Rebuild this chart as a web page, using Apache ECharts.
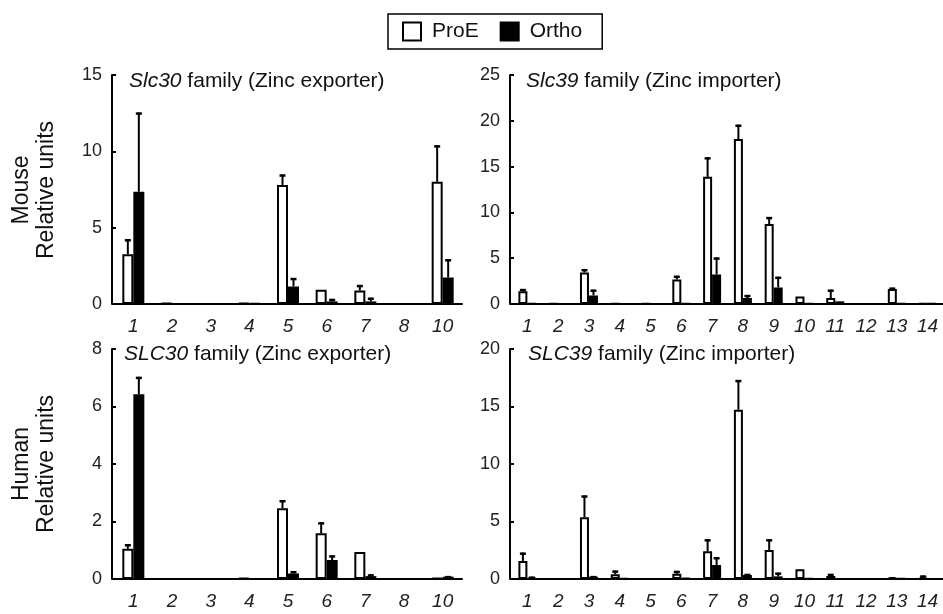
<!DOCTYPE html>
<html>
<head>
<meta charset="utf-8">
<script src="https://cdn.jsdelivr.net/npm/echarts@6/dist/echarts.min.js"></script>
<style>html,body{margin:0;padding:0;background:#fff}#c{width:943px;height:614px}</style>
</head>
<body>
<div id="c"></div>
<script>
const slc30Cats = ['1','2','3','4','5','6','7','8','10'];
const slc39Cats = ['1','2','3','4','5','6','7','8','9','10','11','12','13','14'];

const mouse30ProE     = [3.26, 0.05, 0, 0.05, 7.8, 0.93, 0.89, 0, 8.0];
const mouse30ProEErr  = [0.98, 0, 0, 0, 0.68, 0, 0.35, 0, 2.39];
const mouse30Ortho    = [7.35, 0, 0, 0.03, 1.15, 0.17, 0.17, 0, 1.74];
const mouse30OrthoErr = [5.19, 0, 0, 0, 0.55, 0.16, 0.24, 0, 1.19];

const mouse39ProE     = [1.38, 0.05, 3.44, 0.05, 0.05, 2.68, 13.88, 18.0, 8.73, 0.83, 0.65, 0, 1.63, 0.05];
const mouse39ProEErr  = [0.25, 0, 0.36, 0, 0, 0.4, 2.13, 1.57, 0.76, 0, 0.91, 0, 0.15, 0];
const mouse39Ortho    = [0.08, 0, 0.94, 0, 0, 0.07, 3.22, 0.65, 1.81, 0.05, 0.29, 0, 0.05, 0.05];
const mouse39OrthoErr = [0, 0, 0.62, 0, 0, 0, 1.85, 0.33, 1.16, 0, 0, 0, 0, 0];

const human30ProE     = [1.05, 0, 0, 0.03, 2.46, 1.59, 0.94, 0, 0.04];
const human30ProEErr  = [0.16, 0, 0, 0, 0.28, 0.38, 0, 0, 0];
const human30Ortho    = [6.43, 0, 0, 0, 0.19, 0.66, 0.1, 0, 0.08];
const human30OrthoErr = [0.6, 0, 0, 0, 0.08, 0.16, 0.06, 0, 0.02];

const human39ProE     = [1.57, 0, 5.37, 0.41, 0, 0.46, 2.41, 14.72, 2.53, 0.84, 0.26, 0, 0.08, 0.15];
const human39ProEErr  = [0.72, 0, 1.89, 0.32, 0, 0.24, 1.04, 2.58, 0.92, 0, 0.18, 0, 0.07, 0.15];
const human39Ortho    = [0.15, 0, 0.2, 0.05, 0, 0.1, 1.22, 0.35, 0.23, 0.05, 0, 0, 0.05, 0];
const human39OrthoErr = [0.05, 0, 0.05, 0, 0, 0, 0.67, 0.09, 0.32, 0, 0, 0, 0, 0];

const yMax = [15, 25, 8, 20];
const yInterval = [5, 5, 2, 5];

const FONT = "'Liberation Sans', Arial, Helvetica, sans-serif";

const panels = [
  {cats: slc30Cats, proe: mouse30ProE, proeErr: mouse30ProEErr, ortho: mouse30Ortho, orthoErr: mouse30OrthoErr, bw: 11},
  {cats: slc39Cats, proe: mouse39ProE, proeErr: mouse39ProEErr, ortho: mouse39Ortho, orthoErr: mouse39OrthoErr, bw: 9},
  {cats: slc30Cats, proe: human30ProE, proeErr: human30ProEErr, ortho: human30Ortho, orthoErr: human30OrthoErr, bw: 11},
  {cats: slc39Cats, proe: human39ProE, proeErr: human39ProEErr, ortho: human39Ortho, orthoErr: human39OrthoErr, bw: 9}
];

const grids = [
  {left: 114, top: 75, width: 348, height: 229},
  {left: 512, top: 75, width: 431, height: 229},
  {left: 114, top: 349, width: 348, height: 230},
  {left: 512, top: 349, width: 431, height: 230}
];

function errRender(offset) {
  return function (params, api) {
    const err = api.value(2);
    if (!err) return null;
    const base = api.coord([api.value(0), api.value(1)]);
    const top = api.coord([api.value(0), api.value(1) + err]);
    const x = base[0] + offset;
    return {
      type: 'group',
      children: [
        {type: 'line', shape: {x1: x, y1: base[1], x2: x, y2: top[1]}, style: {stroke: '#000', lineWidth: 2}},
        {type: 'line', shape: {x1: x - 3, y1: top[1] + 1, x2: x + 3, y2: top[1] + 1}, style: {stroke: '#000', lineWidth: 2.5}}
      ]
    };
  };
}

const xAxes = [], yAxes = [], series = [];
panels.forEach((p, i) => {
  xAxes.push({
    type: 'category', gridIndex: i, data: p.cats,
    axisLine: {lineStyle: {color: '#000', width: 2}},
    axisTick: {alignWithLabel: true, length: 4, lineStyle: {color: '#000', width: 2}},
    axisLabel: {fontFamily: FONT, fontSize: 19, fontStyle: 'italic', color: '#222', margin: 13, interval: 0}
  });
  yAxes.push({
    type: 'value', gridIndex: i, min: 0, max: yMax[i], interval: yInterval[i], offset: 2,
    splitLine: {show: false},
    axisLine: {show: true, lineStyle: {color: '#000', width: 2}},
    axisTick: {show: true, inside: true, length: 4, lineStyle: {color: '#000', width: 2}},
    axisLabel: {fontFamily: FONT, fontSize: 18, color: '#222', margin: 10}
  });
  series.push({
    name: 'ProE', type: 'bar', xAxisIndex: i, yAxisIndex: i, data: p.proe,
    barWidth: p.bw, barGap: '0%',
    itemStyle: {color: '#fff', borderColor: '#000', borderWidth: 2},
    emphasis: {disabled: true}
  });
  series.push({
    name: 'Ortho', type: 'bar', xAxisIndex: i, yAxisIndex: i, data: p.ortho,
    barWidth: p.bw, barGap: '0%',
    itemStyle: {color: '#000', borderColor: '#000', borderWidth: 2},
    emphasis: {disabled: true}
  });
  series.push({
    name: 'errProE' + i, type: 'custom', xAxisIndex: i, yAxisIndex: i, z: 5,
    renderItem: errRender(-p.bw / 2),
    data: p.proe.map((v, k) => [k, v, p.proeErr[k]]),
    silent: true
  });
  series.push({
    name: 'errOrtho' + i, type: 'custom', xAxisIndex: i, yAxisIndex: i, z: 5,
    renderItem: errRender(p.bw / 2),
    data: p.ortho.map((v, k) => [k, v, p.orthoErr[k]]),
    silent: true
  });
});

const TS = 21;
const titleStyle = {
  fontFamily: FONT, fontSize: TS, fontWeight: 'normal', color: '#111',
  rich: {i: {fontFamily: FONT, fontSize: TS, fontStyle: 'italic', color: '#111'}, n: {fontFamily: FONT, fontSize: TS, color: '#111'}}
};

const LS = '23px ' + FONT;

const option = {
  animation: false,
  backgroundColor: '#fff',
  title: [
    {text: '{i|Slc30}{n| family (Zinc exporter)}', left: 129, top: 71, padding: 0, textStyle: titleStyle},
    {text: '{i|Slc39}{n| family (Zinc importer)}', left: 526, top: 71, padding: 0, textStyle: titleStyle},
    {text: '{i|SLC30}{n| family (Zinc exporter)}', left: 124, top: 344, padding: 0, textStyle: titleStyle},
    {text: '{i|SLC39}{n| family (Zinc importer)}', left: 528, top: 344, padding: 0, textStyle: titleStyle}
  ],
  legend: {
    data: [
      {name: 'ProE', itemStyle: {color: '#fff', borderColor: '#000', borderWidth: 2}},
      {name: 'Ortho', itemStyle: {color: '#000', borderColor: '#000', borderWidth: 2}}
    ],
    left: 388, top: 14,
    icon: 'rect', itemWidth: 18, itemHeight: 18, itemGap: 21,
    padding: [7, 20, 7, 14],
    borderColor: '#000', borderWidth: 1.5,
    textStyle: {fontFamily: FONT, fontSize: 21, color: '#111', padding: [0, 0, 0, 6]},
    selectedMode: false
  },
  grid: grids,
  xAxis: xAxes,
  yAxis: yAxes,
  series: series,
  graphic: [
    {type: 'text', x: 22, y: 190, rotation: Math.PI / 2, style: {text: 'Mouse', font: LS, fill: '#111', align: 'center', verticalAlign: 'middle'}},
    {type: 'text', x: 47, y: 190, rotation: Math.PI / 2, style: {text: 'Relative units', font: LS, fill: '#111', align: 'center', verticalAlign: 'middle'}},
    {type: 'text', x: 22, y: 464, rotation: Math.PI / 2, style: {text: 'Human', font: LS, fill: '#111', align: 'center', verticalAlign: 'middle'}},
    {type: 'text', x: 47, y: 464, rotation: Math.PI / 2, style: {text: 'Relative units', font: LS, fill: '#111', align: 'center', verticalAlign: 'middle'}}
  ]
};

const chart = echarts.init(document.getElementById('c'), null, {renderer: 'canvas'});
chart.setOption(option);
</script>
</body>
</html>
